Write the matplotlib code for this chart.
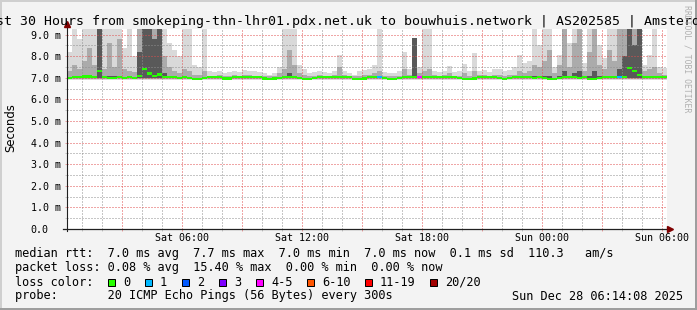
import datetime as dt
import numpy as np
import matplotlib
matplotlib.use("Agg")
import matplotlib.pyplot as plt
import matplotlib.dates as mdates
import matplotlib.ticker as mticker
from matplotlib.patches import Rectangle
from matplotlib.lines import Line2D

W, H, DPI = 697, 310, 100
MONO = "DejaVu Sans Mono"
plt.rcParams["font.family"] = [MONO, "DejaVu Sans"]

# ---------------- data ----------------
range_start = dt.datetime(2025, 12, 27, 0, 14, 8)
range_end = dt.datetime(2025, 12, 28, 6, 14, 8)
bin_minutes = 15
y_max_ms = 9.26
smoke_floor_ms = 6.92

median_ms = [
    7.00, 7.02, 7.04, 7.06, 7.06, 7.05, 7.30, 7.02, 7.00, 7.01,
    7.02, 7.00, 7.02, 7.01, 7.10, 7.42, 7.20, 7.08, 7.15, 7.05,
    7.02, 7.02, 7.01, 7.03, 7.00, 6.95, 6.94, 6.98, 7.02, 7.03,
    7.03, 6.97, 6.97, 7.02, 7.03, 7.04, 7.03, 7.02, 7.03, 6.97,
    6.96, 6.97, 6.98, 7.02, 7.03, 7.03, 7.00, 6.95, 6.94, 6.98,
    7.03, 7.04, 7.03, 7.04, 7.02, 7.03, 7.02, 6.96, 6.93, 6.97,
    7.02, 7.03, 7.03, 6.98, 6.94, 6.95, 7.01, 7.03, 7.04, 7.03,
    7.03, 7.02, 7.03, 7.04, 7.03, 7.02, 7.03, 7.02, 7.00, 6.95,
    6.93, 6.97, 7.02, 7.04, 7.03, 7.02, 6.98, 6.95, 7.00, 7.03,
    7.03, 7.02, 7.03, 7.00, 7.02, 7.01, 6.96, 6.93, 6.98, 7.02,
    7.03, 7.03, 7.00, 7.02, 6.96, 6.95, 7.00, 7.03, 7.02, 7.03,
    7.03, 7.05, 7.45, 7.30, 7.12, 7.05, 7.03, 7.02, 7.03, 7.03,
]

light_top_ms = [
    8.2, 9.5, 8.8, 9.5, 9.5, 9.5, 9.5, 9.5, 9.5, 9.5,
    9.5, 8.4, 9.5, 8.0, 9.5, 9.5, 9.5, 9.5, 9.5, 9.5,
    8.6, 8.3, 8.0, 9.5, 9.5, 7.6, 7.5, 9.5, 7.3, 7.25,
    7.3, 7.2, 7.25, 7.3, 7.25, 7.35, 7.3, 7.3, 7.25, 7.2,
    7.15, 7.2, 7.5, 9.5, 9.5, 9.5, 7.6, 7.4, 7.2, 7.25,
    7.3, 7.25, 7.2, 7.3, 8.05, 7.3, 7.2, 7.15, 7.3, 7.35,
    7.4, 7.6, 9.5, 7.25, 7.2, 7.2, 7.3, 8.2, 7.4, 7.6,
    7.5, 9.5, 9.5, 7.3, 7.25, 7.3, 7.55, 7.25, 7.3, 7.65,
    7.3, 8.15, 7.3, 7.35, 7.25, 7.4, 7.4, 7.3, 7.35, 7.5,
    8.05, 7.7, 7.8, 9.5, 8.5, 9.5, 9.5, 7.5, 8.05, 9.5,
    8.6, 9.5, 9.5, 7.7, 9.5, 9.5, 8.5, 7.9, 9.5, 9.5,
    9.5, 9.5, 9.5, 9.5, 9.5, 7.6, 8.05, 9.5, 7.5, 7.45,
]

mid_top_ms = [
    7.3, 7.6, 7.4, 7.8, 8.4, 7.6, 9.5, 7.4, 8.6, 7.5,
    8.8, 7.4, 7.3, 7.25, 9.5, 9.5, 9.5, 9.5, 9.5, 8.0,
    7.5, 7.3, 7.2, 7.4, 7.3, 7.15, 7.12, 7.3, 7.1, 7.1,
    7.12, 7.1, 7.1, 7.12, 7.1, 7.15, 7.12, 7.1, 7.1, 7.08,
    7.08, 7.1, 7.2, 7.4, 8.3, 7.6, 7.2, 7.15, 7.1, 7.1,
    7.12, 7.1, 7.1, 7.12, 7.5, 7.12, 7.1, 7.08, 7.1, 7.12,
    7.15, 7.2, 7.3, 7.1, 7.08, 7.08, 7.1, 7.4, 7.15, 7.5,
    7.2, 7.3, 7.4, 7.12, 7.1, 7.12, 7.2, 7.1, 7.1, 7.2,
    7.1, 7.3, 7.12, 7.12, 7.1, 7.15, 7.15, 7.1, 7.12, 7.15,
    7.3, 7.2, 7.3, 7.6, 7.5, 7.8, 8.3, 7.2, 7.6, 9.5,
    7.5, 8.6, 9.5, 7.3, 8.2, 9.5, 7.6, 7.4, 8.3, 7.8,
    9.5, 9.5, 9.5, 9.5, 9.5, 7.3, 7.4, 7.5, 7.2, 7.15,
]

dark_top_ms = [
    7.05, 7.1, 7.05, 7.1, 7.1, 7.1, 9.5, 7.1, 7.1, 7.1,
    7.1, 7.05, 7.05, 7.05, 8.2, 9.5, 9.5, 8.8, 9.5, 7.2,
    7.1, 7.05, 7.05, 7.05, 7.05, 7.0, 7.0, 7.05, 7.0, 7.0,
    7.05, 7.0, 7.0, 7.05, 7.05, 7.05, 7.05, 7.0, 7.05, 7.0,
    7.0, 7.0, 7.0, 7.05, 7.2, 7.1, 7.0, 7.0, 7.0, 7.0,
    7.05, 7.05, 7.0, 7.05, 7.1, 7.05, 7.0, 7.0, 7.0, 7.0,
    7.05, 7.05, 7.1, 7.0, 7.0, 7.0, 7.0, 7.1, 7.05, 8.85,
    7.1, 7.05, 7.05, 7.05, 7.05, 7.05, 7.05, 7.05, 7.0, 7.0,
    7.0, 7.05, 7.05, 7.05, 7.05, 7.05, 7.0, 7.0, 7.0, 7.05,
    7.05, 7.05, 7.05, 7.1, 7.1, 7.1, 7.1, 7.0, 7.1, 7.3,
    7.1, 7.2, 7.3, 7.05, 7.1, 7.3, 7.1, 7.05, 7.1, 7.1,
    7.4, 8.0, 9.5, 8.5, 9.5, 7.1, 7.05, 7.1, 7.05, 7.05,
]

loss_class = [
    0, 0, 0, 0, 0, 0, 0, 0, 0, 0,
    0, 0, 0, 0, 0, 0, 0, 0, 0, 0,
    0, 0, 0, 0, 0, 0, 0, 0, 0, 0,
    0, 0, 0, 0, 0, 0, 0, 0, 0, 0,
    0, 0, 0, 0, 0, 0, 0, 0, 0, 0,
    0, 0, 0, 0, 0, 0, 0, 0, 0, 0,
    0, 0, 1, 0, 0, 0, 0, 0, 0, 0,
    4, 0, 0, 0, 0, 0, 0, 0, 0, 0,
    0, 0, 0, 0, 0, 0, 0, 0, 0, 0,
    0, 0, 0, 0, 0, 0, 0, 0, 0, 0,
    0, 0, 0, 0, 0, 0, 0, 0, 0, 0,
    1, 0, 0, 0, 0, 0, 0, 0, 0, 0,
]

loss_labels = ["0", "1", "2", "3", "4-5", "6-10", "11-19", "20/20"]
loss_colors = ["#26ff00", "#00b8ff", "#0059ff", "#7e00ff",
               "#ff00ff", "#ff5500", "#ff0000", "#a10000"]

y_ticks = [0, 1, 2, 3, 4, 5, 6, 7, 8, 9]
y_tick_labels = ["0.0", "1.0 m", "2.0 m", "3.0 m", "4.0 m",
                 "5.0 m", "6.0 m", "7.0 m", "8.0 m", "9.0 m"]
x_major_times = [dt.datetime(2025, 12, 27, h) for h in (3, 6, 9, 12, 15, 18, 21)] + \
                [dt.datetime(2025, 12, 28, h) for h in (0, 3, 6)]
x_major_labels = ["", "Sat 06:00", "", "Sat 12:00", "", "Sat 18:00", "",
                  "Sun 00:00", "", "Sun 06:00"]

title = ("Last 30 Hours from smokeping-thn-lhr01.pdx.net.uk to "
         "bouwhuis.network | AS202585 | Amsterdam")
row_rtt = "median rtt:  7.0 ms avg  7.7 ms max  7.0 ms min  7.0 ms now  0.1 ms sd  110.3   am/s"
row_loss = "packet loss: 0.08 % avg  15.40 % max  0.00 % min  0.00 % now"
row_color = "loss color:"
row_probe = "probe:       20 ICMP Echo Pings (56 Bytes) every 300s"
stamp = "Sun Dec 28 06:14:08 2025"

# ---------------- figure ----------------
fig = plt.figure(figsize=(W / DPI, H / DPI), dpi=DPI, facecolor="#f3f3f3")


def fx(x):
    return x / W


def fy(y):
    return 1 - y / H


ax = fig.add_axes([fx(67), fy(229), 600 / W, 200 / H])
ax.set_facecolor("white")

t = mdates.date2num([range_start + dt.timedelta(minutes=bin_minutes * i)
                     for i in range(len(median_ms))])
step = bin_minutes / 1440.0
edges = np.r_[t, t[-1] + step]


def ext(a):
    a = np.asarray(a, float)
    return np.r_[a, a[-1]]


for tops, floor, col in [(light_top_ms, smoke_floor_ms, "#d9d9d9"),
                         (mid_top_ms, smoke_floor_ms + 0.02, "#ababab"),
                         (dark_top_ms, smoke_floor_ms + 0.05, "#595959")]:
    ax.fill_between(edges, floor, ext(tops), step="post", color=col,
                    linewidth=0, zorder=1)

ax.bar(t, 0.1, bottom=np.asarray(median_ms) - 0.05, width=step, align="edge",
       color=[loss_colors[c] for c in loss_class], linewidth=0,
       antialiased=False, zorder=3)

ax.set_xlim(mdates.date2num(range_start), mdates.date2num(range_end))
ax.set_ylim(0, y_max_ms)

ax.xaxis.set_major_locator(mticker.FixedLocator(mdates.date2num(x_major_times)))
ax.xaxis.set_major_formatter(mticker.FixedFormatter(x_major_labels))
ax.xaxis.set_minor_locator(mdates.HourLocator())
ax.yaxis.set_major_locator(mticker.FixedLocator(y_ticks))
ax.yaxis.set_major_formatter(mticker.FixedFormatter(y_tick_labels))
ax.yaxis.set_minor_locator(mticker.MultipleLocator(0.5))

red = (0.88, 0.31, 0.31, 0.5)
gray = (0.56, 0.56, 0.56, 0.45)
ax.set_axisbelow(False)
ax.grid(which="major", color=red, linestyle=(0, (1, 2)), linewidth=0.72)
ax.grid(which="minor", color=gray, linestyle=(0, (1, 2)), linewidth=0.72)

ax.tick_params(axis="x", which="major", length=1.44, width=0.72, color=red,
               labelsize=7.2, pad=1.6)
ax.tick_params(axis="x", which="minor", length=1.44, width=0.72, color=gray)
ax.tick_params(axis="y", which="major", length=1.44, width=0.72, color=red,
               labelsize=7.2, pad=24.7)
ax.tick_params(axis="y", which="minor", length=1.44, width=0.72, color=gray)
for lbl in ax.get_yticklabels():
    lbl.set_horizontalalignment("left")

for s in ax.spines.values():
    s.set_visible(False)

axis_col = "#202020"
ax.add_line(Line2D([0, 0], [-0.01, 1.02], transform=ax.transAxes, color=axis_col,
                   linewidth=0.8, clip_on=False, zorder=4))
ax.add_line(Line2D([-4 / 600, 1.002], [0, 0], transform=ax.transAxes, color=axis_col,
                   linewidth=0.9, clip_on=False, zorder=4))
ax.plot([0], [(229 - 24) / 200], marker="^", markersize=5, color="#7f0000",
        transform=ax.transAxes, clip_on=False, zorder=5, linestyle="none")
ax.plot([(670 - 67) / 600], [0], marker=">", markersize=5, color="#7f0000",
        transform=ax.transAxes, clip_on=False, zorder=5, linestyle="none")

# ---------------- texts ----------------
fig.text(fx(-20), fy(25), title, fontsize=9.57, family=MONO, ha="left", va="baseline")
fig.text(fx(10.5), fy(128), "Seconds", rotation=90, fontsize=8.4,
         family="DejaVu Sans", ha="center", va="center")
fig.text(fx(687.5), fy(5), "RRDTOOL / TOBI OETIKER", rotation=270, fontsize=5.9,
         family=MONO, color="#b0b0b0", ha="center", va="top")

LS = 8.55
fig.text(fx(15), fy(257.5), row_rtt, fontsize=LS, family=MONO, ha="left", va="baseline")
fig.text(fx(15), fy(271.5), row_loss, fontsize=LS, family=MONO, ha="left", va="baseline")
fig.text(fx(15), fy(285.5), row_color, fontsize=LS, family=MONO, ha="left", va="baseline")
fig.text(fx(15), fy(299.5), row_probe, fontsize=LS, family=MONO, ha="left", va="baseline")
fig.text(fx(512.5), fy(299.5), stamp, fontsize=LS, family=MONO, ha="left", va="baseline")

box_x = [108, 145, 182, 219, 256, 307, 365, 430]
for bx, lab, col in zip(box_x, loss_labels, loss_colors):
    fig.add_artist(Rectangle((fx(bx), fy(285.5)), 7 / W, 7 / H,
                             transform=fig.transFigure, facecolor=col,
                             edgecolor="black", linewidth=0.72))
    fig.text(fx(bx + 15), fy(285.5), lab, fontsize=LS, family=MONO,
             ha="left", va="baseline")

# frame shading
fig.add_artist(Rectangle((0, 1 - 2 / H), 1, 2 / H, transform=fig.transFigure,
                         color="#cfcfcf", linewidth=0))
fig.add_artist(Rectangle((0, 0), 2 / W, 1, transform=fig.transFigure,
                         color="#cfcfcf", linewidth=0))
fig.add_artist(Rectangle((0, 0), 1, 2 / H, transform=fig.transFigure,
                         color="#9e9e9e", linewidth=0))
fig.add_artist(Rectangle((1 - 2 / W, 0), 2 / W, 1, transform=fig.transFigure,
                         color="#9e9e9e", linewidth=0))

fig.savefig("out.png", dpi=DPI, facecolor=fig.get_facecolor())
